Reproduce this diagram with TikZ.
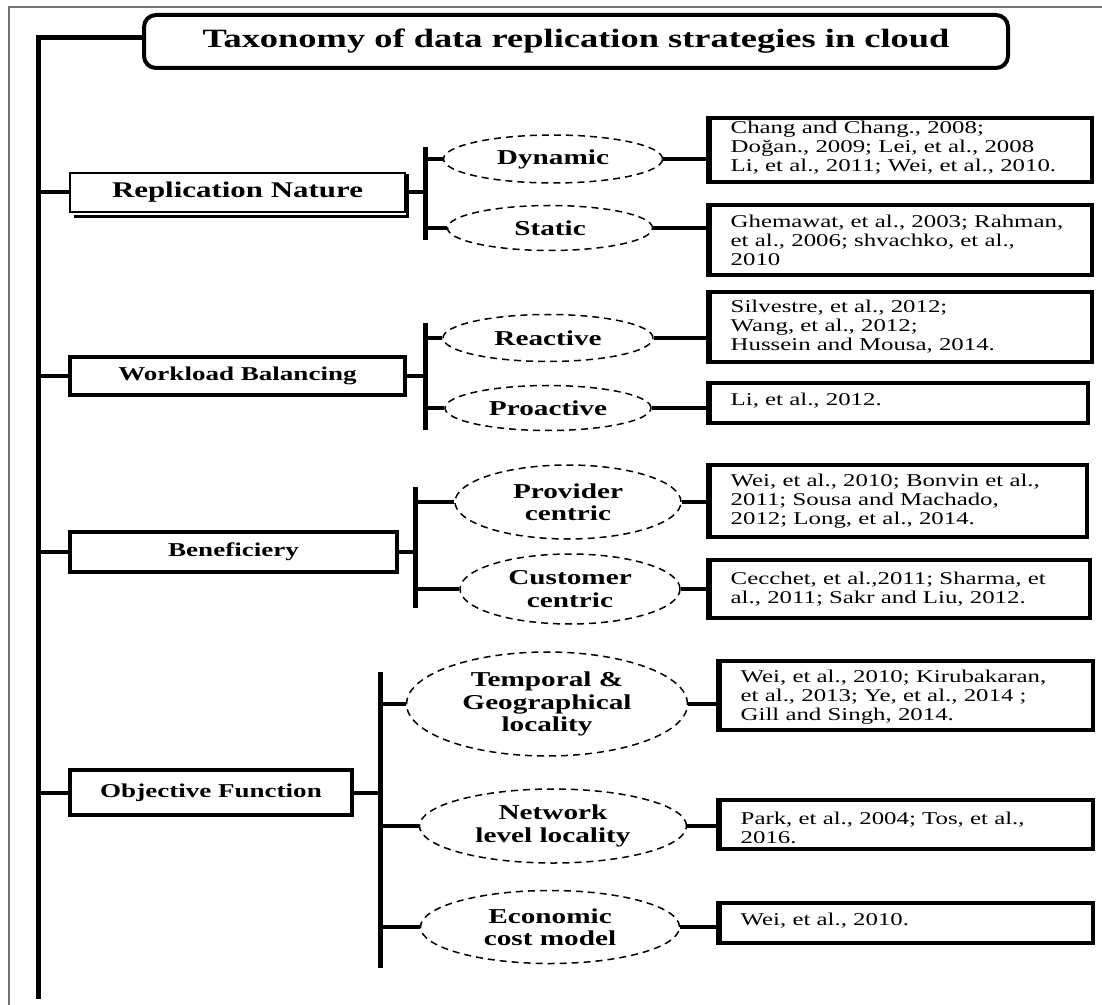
\documentclass[tikz,border=0pt]{standalone}
\usepackage{fontspec}
\setmainfont{Liberation Serif}[FakeStretch=1.38]
\usetikzlibrary{shapes.geometric}
\begin{document}
\begin{tikzpicture}[x=0.5pt,y=-0.5pt,
  frameline/.style={draw=black!55,line width=0.75pt},
  trunk/.style={line width=2.5pt},
  conn/.style={line width=2pt},
  titlebox/.style={draw,line width=2pt,rounded corners=6pt,minimum width=432pt,
    minimum height=26.5pt,inner sep=0pt,font=\fontsize{13.2}{15}\selectfont\bfseries},
  catbox/.style={draw,line width=2.3pt,fill=white,inner sep=0pt,
    font=\fontsize{9.8}{11}\selectfont\bfseries},
  leaf/.style={ellipse,draw,dashed,dash pattern=on 3.5pt off 2.5pt,line width=0.75pt,
    inner sep=0pt,align=center,font=\fontsize{10.6}{11.2}\selectfont\bfseries},
  refbox/.style={draw,line width=1.7pt,inner sep=0pt},
  reftext/.style={anchor=west,align=left,inner sep=0pt,
    font=\fontsize{9}{9.5}\selectfont}
]
\useasboundingbox (0,0) rectangle (1102,1005);

% page frame (top and left edges)
\draw[frameline] (9,1005) -- (9,7) -- (1102,7);

% root
\node[titlebox] (title) at (576,41.5) {Taxonomy of data replication strategies in cloud};
\coordinate (trunktop) at (38,38);
\coordinate (trunkbot) at (38,999);
\draw[trunk] (title.west |- trunktop) -- (trunktop) -- (trunkbot);

% ---------- categories ----------
\node[catbox,line width=0.7pt,minimum width=167.5pt,minimum height=19.5pt,
  font=\fontsize{11.2}{13}\selectfont\bfseries] (rn) at (237.5,192.5) {Replication Nature};
\draw[line width=1.6pt] ([xshift=2.5pt,yshift=-1.9pt]rn.south west)
  -- ([xshift=0.9pt,yshift=-1.9pt]rn.south east) -- ([xshift=0.9pt,yshift=-1pt]rn.north east);
\node[catbox,minimum width=167.5pt,minimum height=19pt] (wb) at (237.5,376) {Workload Balancing};
\node[catbox,minimum width=163.5pt,minimum height=20pt] (ben) at (233.5,552) {Beneficiery};
\node[catbox,minimum width=141pt,minimum height=22.5pt] (of) at (211,792.5) {Objective Function};

\foreach \c in {rn,wb,ben,of}
  \draw[conn] (\c.west) -- (\c.west -| trunktop);

% ---------- brackets ----------
\coordinate (b1t) at (425,147); \coordinate (b1b) at (425,240);
\coordinate (b2t) at (425,323); \coordinate (b2b) at (425,430);
\coordinate (b3t) at (415,487); \coordinate (b3b) at (415,608);
\coordinate (b4t) at (380,672); \coordinate (b4b) at (380,968);
\foreach \t/\b in {b1t/b1b,b2t/b2b,b3t/b3b,b4t/b4b}
  \draw[trunk] (\t) -- (\b);

\draw[conn] (rn.east) -- (rn.east -| b1t);
\draw[conn] (wb.east) -- (wb.east -| b2t);
\draw[conn] (ben.east) -- (ben.east -| b3t);
\draw[conn] (of.east) -- (of.east -| b4t);

% ---------- leaves ----------
\node[leaf,minimum width=109.5pt,minimum height=24pt] (dyn) at (553,159) {Dynamic};
\node[leaf,minimum width=102.5pt,minimum height=22.5pt] (sta) at (550,228) {Static};
\node[leaf,minimum width=105pt,minimum height=23.5pt] (rea) at (548,338) {Reactive};
\node[leaf,minimum width=103pt,minimum height=22.5pt] (pro) at (548,408) {Proactive};
\node[leaf,minimum width=113pt,minimum height=37pt] (prv) at (568,502) {Provider\\centric};
\node[leaf,minimum width=110pt,minimum height=35pt] (cus) at (570,589) {Customer\\centric};
\node[leaf,minimum width=140.5pt,minimum height=52pt] (tem) at (547,704) {Temporal \&\\Geographical\\locality};
\node[leaf,minimum width=133.5pt,minimum height=37pt] (net) at (553,826) {Network\\level locality};
\node[leaf,minimum width=129.5pt,minimum height=36.5pt] (eco) at (550,927) {Economic\\cost model};

\foreach \l/\b in {dyn/b1t,sta/b1t,rea/b2t,pro/b2t,prv/b3t,cus/b3t,tem/b4t,net/b4t,eco/b4t}
  \draw[conn] (\l.west) -- (\l.west -| \b);

% ---------- references ----------
\node[refbox,minimum width=191pt,minimum height=32pt] (r1) at (901,150) {};
\node[refbox,minimum width=191pt,minimum height=35pt] (r2) at (901,240) {};
\node[refbox,minimum width=191pt,minimum height=35pt] (r3) at (901,327) {};
\node[refbox,minimum width=189pt,minimum height=20pt] (r4) at (899,403) {};
\node[refbox,minimum width=188.5pt,minimum height=36pt] (r5) at (898.5,501) {};
\node[refbox,minimum width=190pt,minimum height=29pt] (r6) at (900,589) {};
\node[refbox,minimum width=186.5pt,minimum height=34.5pt] (r7) at (906.5,695.5) {};
\node[refbox,minimum width=186.5pt,minimum height=24.5pt] (r8) at (906.5,824.5) {};
\node[refbox,minimum width=186.5pt,minimum height=20pt] (r9) at (906.5,923) {};

\foreach \r in {r1,r2,r3,r4,r5,r6,r7,r8,r9}
  \draw[line width=2.6pt] (\r.south west) -- (\r.north west);

\foreach \l/\r in {dyn/r1,sta/r2,rea/r3,pro/r4,prv/r5,cus/r6,tem/r7,net/r8,eco/r9}
  \draw[conn] (\l.east) -- (\l.east -| \r.west);

\node[reftext] (t1) at ([xshift=11pt,yshift=1pt]r1.west)
  {Chang and Chang., 2008;\\Doğan., 2009; Lei, et al., 2008\\Li, et al., 2011; Wei, et al., 2010.};
\node[reftext] (t2) at ([xshift=11pt]r2.west)
  {Ghemawat, et al., 2003; Rahman,\\et al., 2006; shvachko, et al.,\\2010};
\node[reftext] (t3) at ([xshift=11pt]r3.west)
  {Silvestre, et al., 2012;\\Wang, et al., 2012;\\Hussein and Mousa, 2014.};
\node[reftext] (t4) at ([xshift=11pt,yshift=1pt]r4.west) {Li, et al., 2012.};
\node[reftext] (t5) at ([xshift=11pt]r5.west)
  {Wei, et al., 2010; Bonvin et al.,\\2011; Sousa and Machado,\\2012; Long, et al., 2014.};
\node[reftext] (t6) at ([xshift=11pt]r6.west)
  {Cecchet, et al.,2011; Sharma, et\\al., 2011; Sakr and Liu, 2012.};
\begin{scope}
  \clip ([yshift=-1pt]r7.north west) rectangle ([yshift=2pt]r7.south east);
  \node[reftext] (t7) at ([xshift=11pt,yshift=-0.8pt]r7.west)
    {Wei, et al., 2010; Kirubakaran,\\et al., 2013; Ye, et al., 2014 ;\\Gill and Singh, 2014.};
\end{scope}
\begin{scope}
  \clip ([yshift=-1pt]r8.north west) rectangle ([yshift=2pt]r8.south east);
  \node[reftext] (t8) at ([xshift=11pt,yshift=-1.5pt]r8.west)
    {Park, et al., 2004; Tos, et al.,\\2016.};
\end{scope}
\node[reftext] (t9) at ([xshift=11pt,yshift=1pt]r9.west) {Wei, et al., 2010.};
\end{tikzpicture}
\end{document}
